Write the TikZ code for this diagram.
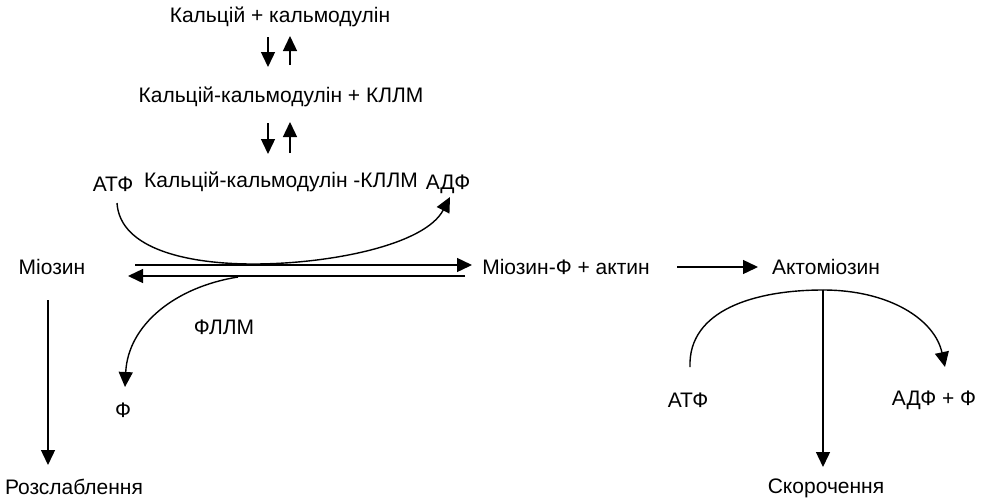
\documentclass[tikz,border=0pt]{standalone}
\usepackage{fontspec}
\setmainfont{Liberation Sans}
\usetikzlibrary{arrows.meta}
\begin{document}
\begin{tikzpicture}[x=1pt,y=-1pt,
  lbl/.style={inner sep=0pt, font=\fontsize{21}{25}\selectfont},
  ln/.style={line width=1.4pt},
  arr/.style={ln, -{Triangle[length=15pt,width=14pt]}}]
\useasboundingbox (0,0) rectangle (985,499);
% labels
\node[lbl] (ca)   at (280,17)  {Кальцій + кальмодулін};
\node[lbl] (cak)  at (281,97)  {Кальцій-кальмодулін + КЛЛМ};
\node[lbl] (cakl) at (281,182) {Кальцій-кальмодулін -КЛЛМ};
\node[lbl] (atfa) at (113,184) {АТФ};
\node[lbl] (adfa) at (448,184) {АДФ};
\node[lbl] (myo)  at (52,267)  {Міозин};
\node[lbl] (myof) at (566,267) {Міозин-Ф + актин};
\node[lbl] (akto) at (826,267) {Актоміозин};
\node[lbl] (fllm) at (224,327) {ФЛЛМ};
\node[lbl] (fo)   at (123,410) {Ф};
\node[lbl] (rel)  at (74,487)  {Розслаблення};
\node[lbl] (atfb) at (688,400) {АТФ};
\node[lbl] (adfb) at (934,400) {АДФ + Ф};
\node[lbl] (skor) at (826,488) {Скорочення};
% anchor points of the connectors
\coordinate (d1s) at (268,37);  \coordinate (d1e) at (268,67);
\coordinate (u1s) at (290,65);  \coordinate (u1e) at (290,36);
\coordinate (d2s) at (268,123); \coordinate (d2e) at (268,154);
\coordinate (u2s) at (290,153); \coordinate (u2e) at (290,122);
\coordinate (fws) at (135,265); \coordinate (fwe) at (472,265);
\coordinate (bws) at (465,276); \coordinate (bwe) at (128,276);
\coordinate (atfs) at (117,203); \coordinate (mid) at (253,264); \coordinate (adfe) at (450,197);
\coordinate (fls) at (238,277); \coordinate (fle) at (125,387);
\coordinate (rs) at (48,300);   \coordinate (re) at (48,465);
\coordinate (as) at (677,267);  \coordinate (ae) at (758,267);
\coordinate (top) at (823,290); \coordinate (ke) at (823,467);
\coordinate (atfr) at (690,367); \coordinate (adfr) at (945,367);
% calcium / calmodulin equilibria
\draw[arr] (d1s) -- (d1e);
\draw[arr] (u1s) -- (u1e);
\draw[arr] (d2s) -- (d2e);
\draw[arr] (u2s) -- (u2e);
% phosphorylation of myosin
\draw[arr] (fws) -- (fwe);
\draw[arr] (bws) -- (bwe);
\draw[arr] (atfs) .. controls (120,250) and (190,264) .. (mid)
                  .. controls (330,264) and (425,245) .. (adfe);
\draw[arr] (fls) .. controls (175,287) and (128,325) .. (fle);
\draw[arr] (rs) -- (re);
% actomyosin
\draw[arr] (as) -- (ae);
\draw[ln] (atfr) .. controls (688,310) and (755,290) .. (top);
\draw[arr] (top) .. controls (890,290) and (935,320) .. (adfr);
\draw[arr] (top) -- (ke);
\end{tikzpicture}
\end{document}
